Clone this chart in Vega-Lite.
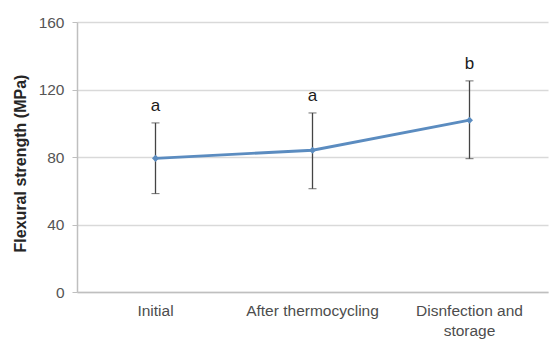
{
  "$schema": "https://vega.github.io/schema/vega-lite/v6.json",
  "width": 471,
  "height": 270,
  "autosize": {"type": "none"},
  "padding": {"left": 77, "top": 22, "right": 1, "bottom": 48},
  "background": "white",
  "config": {
    "view": {"stroke": null},
    "font": "Liberation Sans"
  },
  "data": {
    "values": [
      {"group": "Initial", "mean": 79.2, "lo": 58.3, "hi": 100.2, "letter": "a"},
      {"group": "After thermocycling", "mean": 84, "lo": 61.2, "hi": 106.1, "letter": "a"},
      {"group": "Disnfection and storage", "mean": 101.8, "lo": 79, "hi": 125.1, "letter": "b"}
    ]
  },
  "encoding": {
    "x": {
      "field": "group",
      "type": "nominal",
      "sort": null,
      "scale": {"paddingInner": 0, "paddingOuter": 0},
      "axis": {
        "title": null,
        "labelAngle": 0,
        "labelFontSize": 15.5,
        "labelColor": "#4d4d4d",
        "labelPadding": 11,
        "labelLineHeight": 20,
        "ticks": false,
        "domainColor": "#bfbfbf",
        "domainWidth": 1.5,
        "labelExpr": "datum.label == 'Disnfection and storage' ? ['Disnfection and', 'storage'] : datum.label"
      }
    }
  },
  "layer": [
    {
      "mark": {"type": "errorbar", "ticks": {"size": 8, "color": "#333333", "strokeWidth": 1.6}, "rule": {"color": "#444444", "strokeWidth": 1.3}},
      "encoding": {
        "y": {
          "field": "lo",
          "type": "quantitative",
          "scale": {"domain": [0, 160]},
          "axis": {
            "values": [0, 40, 80, 120, 160],
            "title": "Flexural strength (MPa)",
            "titleFontSize": 16,
            "titleFontWeight": "bold",
            "titleColor": "#262626",
            "titlePadding": 10,
            "titleY": 141,
            "labelFontSize": 15.5,
            "labelColor": "#555555",
            "labelPadding": 8,
            "tickSize": 5,
            "tickColor": "#bfbfbf",
            "domainColor": "#bfbfbf",
            "domainWidth": 1.5,
            "grid": true,
            "gridColor": "#d9d9d9",
            "gridWidth": 1.3
          }
        },
        "y2": {"field": "hi"}
      }
    },
    {
      "mark": {"type": "line", "color": "#5b8cc0", "strokeWidth": 2.8, "point": {"shape": "diamond", "size": 50, "color": "#5b8cc0", "filled": true}},
      "encoding": {
        "y": {"field": "mean", "type": "quantitative"}
      }
    },
    {
      "mark": {"type": "text", "dy": -17, "fontSize": 17, "color": "#1a1a1a", "baseline": "middle"},
      "encoding": {
        "y": {"field": "hi", "type": "quantitative"},
        "text": {"field": "letter"}
      }
    }
  ]
}
